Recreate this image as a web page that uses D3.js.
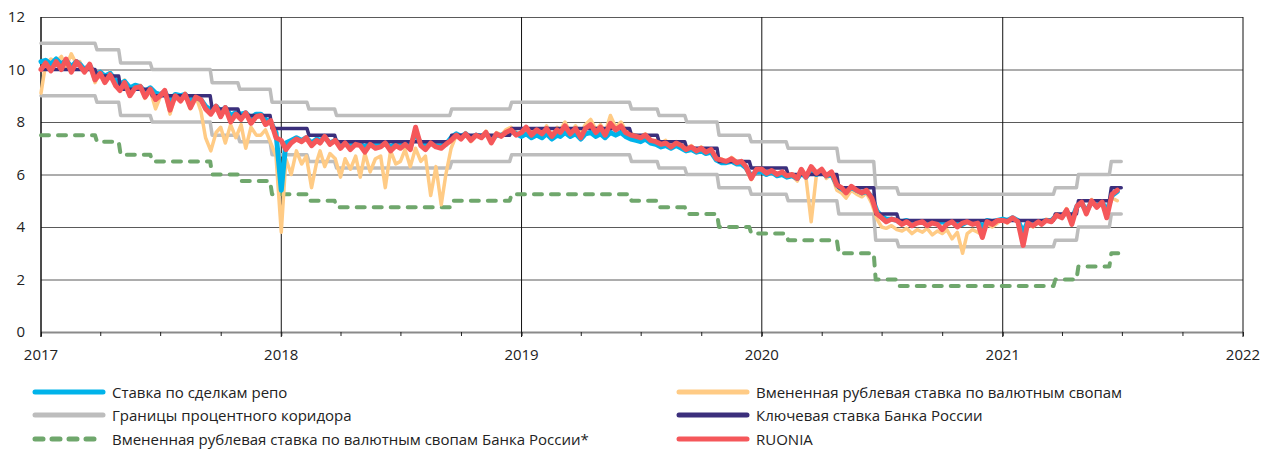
<!DOCTYPE html>
<html>
<head>
<meta charset="utf-8">
<script src="https://cdnjs.cloudflare.com/ajax/libs/d3/7.8.5/d3.min.js"></script>
<style>
  body { margin: 0; background: #fff; }
  text { font-family: "Open Sans", sans-serif; fill: #222; }
</style>
</head>
<body>
<script>
// Chart size
//= ================================
let svgWidth = 1272;
let svgHeight = 450;
let margin = { top: 17, right: 29, bottom: 118, left: 41 };
let width = svgWidth - margin.left - margin.right;
let height = svgHeight - margin.top - margin.bottom;

// Data
// =================================
let yTicks = [0, 2, 4, 6, 8, 10, 12];
let yearTicks = ['2017', '2018', '2019', '2020', '2021', '2022'];

// noisy series are read 4 times a month (days 1, 8, 16, 24), Jan 2017 - Jun 2021
let sampleDays = [1, 8, 16, 24];

let ruonia = [
  10.0,10.25,9.95,10.3, 10.0,10.4,9.9,10.3, 10.15,9.9,10.2,9.6, 9.85,9.5,9.8,9.4, 9.2,9.5,9.0,9.3, 9.35,8.95,9.25,8.85, 9.0,9.2,8.45,9.0, 8.8,9.05,8.55,8.95, 8.85,8.5,8.3,8.6, 8.2,8.55,8.0,8.3, 8.1,8.35,7.95,8.2, 8.25,7.9,8.05,7.4,
  7.3,6.95,7.2,7.35, 7.25,7.4,7.1,7.3, 7.2,7.45,7.15,7.3, 7.0,7.2,6.95,7.15, 7.1,6.85,7.15,7.0, 7.05,7.2,6.9,7.1, 7.0,7.15,6.95,7.8, 7.1,6.95,7.2,7.05, 7.0,7.15,7.3,7.5, 7.35,7.55,7.3,7.5, 7.4,7.6,7.2,7.55, 7.45,7.6,7.7,7.5,
  7.6,7.8,7.5,7.7, 7.55,7.75,7.45,7.7, 7.6,7.85,7.55,7.75, 7.4,7.75,7.9,7.6, 7.8,7.5,7.95,7.7, 7.85,7.6,7.5,7.45, 7.4,7.5,7.3,7.25, 7.15,7.2,7.05,7.2, 7.1,6.95,7.05,6.9, 7.0,6.85,6.95,6.6, 6.55,6.5,6.6,6.45, 6.5,6.3,5.85,6.2,
  6.2,6.05,6.15,6.0, 6.1,5.95,6.0,5.85, 6.2,5.9,6.3,6.05, 6.2,5.95,6.1,5.6, 5.5,5.3,5.55,5.4, 5.3,5.4,5.1,4.5, 4.35,4.2,4.3,4.25, 4.1,4.2,4.05,4.15, 4.2,4.05,4.15,4.1, 3.9,4.1,4.2,4.0, 4.15,4.2,4.1,4.15, 3.6,4.2,4.1,4.25,
  4.25,4.2,4.35,4.2, 3.3,4.15,4.05,4.2, 4.1,4.25,4.2,4.45, 4.35,4.65,4.1,4.8, 4.95,4.5,5.0,4.75, 4.95,4.35,5.25,5.4
];

let repoRate = [
  10.3,10.35,10.2,10.4, 10.2,10.35,10.1,10.3, 10.2,10.0,10.15,9.8, 9.9,9.75,9.85,9.6, 9.45,9.55,9.3,9.4, 9.35,9.15,9.3,9.1, 9.05,9.15,8.8,9.05, 9.0,9.05,8.8,8.95, 8.85,8.6,8.45,8.6, 8.4,8.55,8.25,8.35, 8.3,8.35,8.15,8.3, 8.3,8.1,8.0,7.6,
  5.4,7.2,7.3,7.4, 7.3,7.4,7.2,7.35, 7.3,7.4,7.2,7.3, 7.15,7.2,7.1,7.15, 7.15,7.05,7.2,7.1, 7.15,7.2,7.05,7.15, 7.1,7.2,7.05,7.6, 7.15,7.1,7.2,7.1, 7.1,7.15,7.4,7.55, 7.45,7.55,7.4,7.5, 7.45,7.55,7.35,7.5, 7.5,7.55,7.65,7.55,
  7.45,7.55,7.4,7.5, 7.4,7.55,7.35,7.5, 7.45,7.6,7.45,7.55, 7.35,7.55,7.6,7.45, 7.55,7.4,7.6,7.5, 7.6,7.45,7.35,7.3, 7.25,7.35,7.2,7.15, 7.05,7.1,7.0,7.1, 7.0,6.9,6.95,6.85, 6.9,6.8,6.85,6.55, 6.45,6.45,6.5,6.4, 6.4,6.25,5.95,6.1,
  6.1,6.0,6.1,5.95, 6.0,5.9,5.95,5.85, 6.05,5.9,6.15,6.0, 6.1,5.95,6.0,5.6, 5.45,5.35,5.5,5.4, 5.3,5.35,5.15,4.6, 4.4,4.3,4.3,4.25, 4.2,4.25,4.15,4.2, 4.2,4.15,4.2,4.15, 4.2,4.15,4.2,4.1, 4.1,4.2,4.15,4.2, 4.0,4.25,4.2,4.25,
  4.3,4.25,4.35,4.25, 3.8,4.2,4.15,4.2, 4.2,4.25,4.25,4.45, 4.4,4.6,4.3,4.8, 4.9,4.6,4.95,4.8, 4.95,4.6,5.2,5.35
];

let swapImplied = [
  9.1,10.2,10.4,10.3, 10.5,10.1,10.6,10.2, 10.3,9.9,10.2,9.5, 9.9,9.6,9.9,9.35, 9.3,9.6,9.0,9.3, 9.4,8.9,9.2,8.5, 8.95,9.2,8.3,9.0, 8.8,9.1,8.5,9.0, 8.4,7.4,6.9,7.6, 7.8,7.2,7.9,7.4, 7.9,7.0,7.8,7.5, 7.5,7.7,7.2,6.7,
  3.8,6.6,6.0,6.9, 6.4,6.7,5.5,6.5, 6.9,6.3,6.8,6.6, 5.9,6.6,6.2,6.7, 5.9,6.8,6.1,6.6, 6.7,5.5,6.9,6.4, 6.5,6.95,6.3,7.0, 6.5,6.7,5.2,6.3, 4.85,6.0,7.0,7.5, 7.4,7.6,7.25,7.5, 7.45,7.65,7.3,7.6, 7.5,7.7,7.8,7.6,
  7.5,7.8,7.6,7.75, 7.6,7.85,7.5,7.8, 7.7,8.0,7.6,7.85, 7.6,7.9,8.1,7.7, 7.9,7.6,8.25,7.8, 8.0,7.7,7.55,7.5, 7.45,7.55,7.25,7.3, 7.2,7.3,7.0,7.25, 7.1,7.0,7.1,6.9, 7.05,6.8,6.95,6.6, 6.6,6.45,6.65,6.5, 6.5,6.2,5.8,6.25,
  6.25,6.0,6.2,5.95, 6.1,5.9,5.95,5.75, 6.15,5.9,4.2,6.0, 6.2,5.85,6.0,5.4, 5.3,5.1,5.4,5.25, 5.15,5.3,4.9,4.3, 4.0,3.95,4.05,3.9, 3.85,3.95,3.75,3.9, 3.8,3.95,3.7,3.85, 3.75,3.9,3.55,3.8, 3.0,3.75,3.9,3.8, 3.7,4.1,4.0,4.15,
  4.3,4.15,4.35,4.2, 3.6,4.1,4.0,4.2, 4.15,4.3,4.25,4.5, 4.4,4.7,4.2,4.85, 5.0,4.55,5.05,4.75, 4.9,4.5,5.1,5.0
];

// step series: decision dates and levels
let stepDates = ['2017-01-01','2017-03-27','2017-05-02','2017-06-19','2017-09-18','2017-10-30','2017-12-18',
  '2018-02-12','2018-03-26','2018-09-17','2018-12-17','2019-06-17','2019-07-29','2019-09-09','2019-10-28',
  '2019-12-16','2020-02-10','2020-04-27','2020-06-22','2020-07-27','2021-03-22','2021-04-26','2021-06-15'];
let stepEnd = '2021-06-30';
let keyRate = [10, 9.75, 9.25, 9, 8.5, 8.25, 7.75, 7.5, 7.25, 7.5, 7.75, 7.5, 7.25, 7, 6.5, 6.25, 6, 5.5, 4.5, 4.25, 4.5, 5, 5.5];
let corridorUpper = [11, 10.75, 10.25, 10, 9.5, 9.25, 8.75, 8.5, 8.25, 8.5, 8.75, 8.5, 8.25, 8, 7.5, 7.25, 7, 6.5, 5.5, 5.25, 5.5, 6, 6.5];
let corridorLower = [9, 8.75, 8.25, 8, 7.5, 7.25, 6.75, 6.5, 6.25, 6.5, 6.75, 6.5, 6.25, 6, 5.5, 5.25, 5, 4.5, 3.5, 3.25, 3.5, 4, 4.5];
let cbrSwap = [7.5, 7.25, 6.75, 6.5, 6, 5.75, 5.25, 5, 4.75, 5, 5.25, 5, 4.75, 4.5, 4, 3.75, 3.5, 3, 2, 1.75, 2, 2.5, 3];

let legendLeft = ['Ставка по сделкам репо', 'Границы процентного коридора', 'Вмененная рублевая ставка по валютным свопам Банка России*'];
let legendRight = ['Вмененная рублевая ставка по валютным свопам', 'Ключевая ставка Банка России', 'RUONIA'];

// build dates
// =================================
let parseDate = d3.timeParse('%Y-%m-%d');
let sampleDates = [];
for (let y = 2017; y <= 2021; y++) {
  for (let m = 0; m < 12; m++) {
    if (y === 2021 && m > 5) break;
    sampleDays.forEach(d => sampleDates.push(new Date(y, m, d)));
  }
}
let noisy = vals => vals.map((v, i) => [sampleDates[i], v]);

// step line: short ramp of 3 days before each change
let steps = function(vals) {
  let pts = [];
  let ds = stepDates.map(parseDate);
  vals.forEach(function(v, i) {
    pts.push([ds[i], v]);
    let next = i < vals.length - 1 ? d3.timeDay.offset(ds[i + 1], -3) : parseDate(stepEnd);
    pts.push([next, v]);
  });
  return pts;
};

// svg
// =================================
let svg = d3.select('body').append('svg')
  .attr('width', svgWidth)
  .attr('height', svgHeight);
let chartGroup = svg.append('g')
  .attr('transform', `translate(${margin.left}, ${margin.top})`);

// scales
let xScale = d3.scaleTime()
  .domain([new Date(2017, 0, 1), new Date(2022, 0, 1)])
  .range([0, width]);
let yScale = d3.scaleLinear()
  .domain([0, 12])
  .range([height, 0]);

// horizontal gridlines
chartGroup.append('g')
  .call(d3.axisLeft(yScale).tickValues(yTicks).tickSize(-width).tickFormat(''))
  .call(g => g.select('.domain').remove())
  .selectAll('line')
  .attr('stroke', d => d === 0 ? '#8a8a8a' : '#5a5a5a')
  .attr('stroke-width', d => d === 0 ? 2 : 1);

// vertical year lines
chartGroup.append('g')
  .selectAll('line')
  .data(yearTicks)
  .enter()
  .append('line')
  .attr('x1', d => xScale(new Date(+d, 0, 1)))
  .attr('x2', d => xScale(new Date(+d, 0, 1)))
  .attr('y1', 0)
  .attr('y2', height + 5)
  .attr('stroke', '#111')
  .attr('stroke-width', 1);

// quarter ticks
let bottomAxis = d3.axisBottom(xScale)
  .ticks(d3.timeMonth.every(3))
  .tickSize(4)
  .tickFormat('');
chartGroup.append('g')
  .attr('transform', `translate(0, ${height})`)
  .call(bottomAxis)
  .call(g => g.select('.domain').remove())
  .selectAll('line')
  .attr('stroke', '#222');

// year labels
chartGroup.append('g')
  .selectAll('text')
  .data(yearTicks)
  .enter()
  .append('text')
  .attr('x', d => xScale(new Date(+d, 0, 1)))
  .attr('y', height + 28)
  .attr('text-anchor', 'middle')
  .attr('font-size', '15px')
  .text(d => d);

// y labels
chartGroup.append('g')
  .selectAll('text')
  .data(yTicks)
  .enter()
  .append('text')
  .attr('x', -16)
  .attr('y', d => yScale(d))
  .attr('dy', '0.35em')
  .attr('text-anchor', 'end')
  .attr('font-size', '15px')
  .text(d => d);

// left axis line
chartGroup.append('line')
  .attr('x1', 0).attr('x2', 0)
  .attr('y1', 0).attr('y2', height + 5)
  .attr('stroke', '#111');

// lines
// =================================
let line = d3.line()
  .x(d => xScale(d[0]))
  .y(d => yScale(d[1]));

let series = [
  { pts: steps(corridorUpper), color: '#bdbdbd', w: 3.5 },
  { pts: steps(corridorLower), color: '#bdbdbd', w: 3.5 },
  { pts: steps(cbrSwap), color: '#6fa76c', w: 4, dash: '8,9' },
  { pts: noisy(swapImplied), color: '#ffcb85', w: 3.5 },
  { pts: noisy(repoRate), color: '#00b3ea', w: 5 },
  { pts: steps(keyRate), color: '#3b2f7c', w: 3.5 },
  { pts: noisy(ruonia), color: '#f5575a', w: 5 }
];

chartGroup.append('g')
  .selectAll('path')
  .data(series)
  .enter()
  .append('path')
  .attr('d', d => line(d.pts))
  .attr('fill', 'none')
  .attr('stroke', d => d.color)
  .attr('stroke-width', d => d.w)
  .attr('stroke-linejoin', 'round')
  .attr('stroke-linecap', 'round')
  .attr('stroke-dasharray', d => d.dash || null);

// legend
// =================================
let legendColors = [
  [{ c: '#00b3ea' }, { c: '#bdbdbd' }, { c: '#6fa76c', dash: '8,9' }],
  [{ c: '#ffcb85' }, { c: '#3b2f7c' }, { c: '#f5575a' }]
];
let legendX = [35, 679];
let legendY = [392, 415, 439];

[legendLeft, legendRight].forEach(function(labels, col) {
  let g = svg.append('g');
  labels.forEach(function(label, i) {
    let item = legendColors[col][i];
    g.append('line')
      .attr('x1', legendX[col]).attr('x2', legendX[col] + 68)
      .attr('y1', legendY[i]).attr('y2', legendY[i])
      .attr('stroke', item.c)
      .attr('stroke-width', 5)
      .attr('stroke-linecap', 'round')
      .attr('stroke-dasharray', item.dash || null);
    g.append('text')
      .attr('x', legendX[col] + 77)
      .attr('y', legendY[i] + 1)
      .attr('dy', '0.35em')
      .attr('font-size', '15px')
      .text(label);
  });
});
</script>
</body>
</html>
